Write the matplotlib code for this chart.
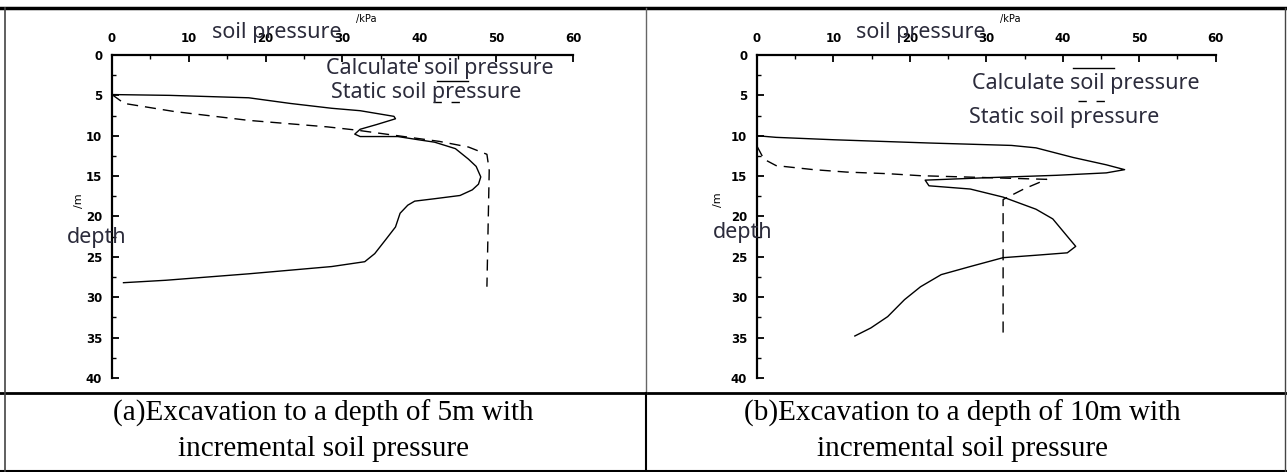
import matplotlib
matplotlib.use("Agg")
import matplotlib.pyplot as plt
from matplotlib.lines import Line2D
from matplotlib.ticker import MultipleLocator

# (a) excavation to 5 m
a_calc_p = [0, 7.5, 17.8, 23.2, 28.6, 32.3, 36.7, 36.9, 34.5, 32.3, 31.6, 32.3, 37.2, 39.9, 42.0,
            44.7, 46.4, 47.4, 48.0, 47.7, 46.9, 45.3, 42.0, 39.4, 38.5, 37.5, 36.9, 35.6, 34.2,
            32.9, 28.6, 17.8, 7.0, 1.5]
a_calc_d = [4.9, 5.0, 5.3, 6.0, 6.6, 6.9, 7.6, 7.9, 8.6, 9.2, 9.8, 10.1, 10.1, 10.5, 10.8,
            11.6, 12.9, 13.8, 15.1, 16.0, 16.7, 17.4, 17.8, 18.1, 18.6, 19.6, 21.3, 22.9, 24.6,
            25.6, 26.2, 27.1, 27.9, 28.2]
a_stat_p = [0, 1.6, 8.1, 17.8, 28.0, 31.8, 37.2, 42.6, 46.4, 48.8, 49.1, 48.8]
a_stat_d = [4.9, 6.0, 7.0, 8.1, 8.9, 9.3, 10.0, 10.7, 11.4, 12.3, 14.3, 28.7]

# (b) excavation to 10 m
b_calc_p = [0, 2.5, 10.1, 22.5, 33.3, 36.5, 41.4, 45.7, 48.1, 45.7, 39.2, 30.0, 22.0, 22.5,
            27.9, 32.2, 36.5, 38.7, 40.9, 41.7, 40.6, 36.5, 32.2, 27.9, 24.1, 21.4, 19.3, 17.1,
            14.9, 12.8]
b_calc_d = [10.0, 10.2, 10.5, 10.9, 11.2, 11.5, 12.7, 13.6, 14.2, 14.6, 14.9, 15.2, 15.5, 16.2,
            16.6, 17.6, 19.1, 20.3, 22.8, 23.7, 24.5, 24.8, 25.1, 26.2, 27.2, 28.7, 30.3, 32.4,
            33.8, 34.8]
b_stat_p = [0, 0.9, 2.5, 7.4, 11.7, 17.1, 21.4, 30.6, 37.9, 34.9, 32.2, 32.2, 32.2]
b_stat_d = [11.3, 12.9, 13.7, 14.2, 14.5, 14.7, 14.95, 15.2, 15.4, 16.6, 17.9, 19.9, 34.9]

captions = ["(a)Excavation to a depth of 5m with\nincremental soil pressure",
            "(b)Excavation to a depth of 10m with\nincremental soil pressure"]

txt_color = "#2b2b3b"
sans = ["Noto Sans", "DejaVu Sans"]
big = 15.5

fig = plt.figure(figsize=(12.87, 4.72), dpi=100)

# table borders
def fline(x, y, lw, color="black"):
    fig.add_artist(Line2D(x, y, transform=fig.transFigure, lw=lw, color=color))

fline([0.0, 1.0], [0.983, 0.983], 2.5)
fline([0.0, 1.0], [0.167, 0.167], 2.0)
fline([0.0, 1.0], [0.002, 0.002], 1.5)
fline([0.004, 0.004], [0.0, 0.983], 1.2, "#444444")
fline([0.9985, 0.9985], [0.0, 0.983], 1.0, "#444444")
fline([0.502, 0.502], [0.167, 0.983], 1.0, "#666666")
fline([0.502, 0.502], [0.0, 0.167], 1.5)

panels = [
    dict(rect=[0.0870, 0.1992, 0.3582, 0.6843], calc=(a_calc_p, a_calc_d),
         stat=(a_stat_p, a_stat_d), cx=0.2515, cap=captions[0],
         calc_txt=(42.6, 1.7), stat_txt=(40.9, 4.7),
         solid_s=([42.3, 46.4], [3.2, 3.2]), dash_s=([41.8, 45.9], [5.8, 5.8]),
         slash=(-4.3, 18.0), depth=(-2.0, 22.6)),
    dict(rect=[0.5882, 0.1992, 0.3563, 0.6843], calc=(b_calc_p, b_calc_d),
         stat=(b_stat_p, b_stat_d), cx=0.7475, cap=captions[1],
         calc_txt=(43.0, 3.5), stat_txt=(40.2, 7.7),
         solid_s=([41.4, 46.7], [1.6, 1.6]), dash_s=([42.0, 45.6], [5.7, 5.7]),
         slash=(-5.1, 17.9), depth=(-1.9, 22.0)),
]

for p in panels:
    ax = fig.add_axes(p["rect"])
    ax.plot(*p["calc"], color="black", lw=1.0)
    ax.plot(*p["stat"], color="black", lw=1.0, dashes=(8, 5))
    ax.set_xlim(0, 60)
    ax.set_ylim(40, 0)
    ax.spines["bottom"].set_visible(False)
    ax.spines["right"].set_visible(False)
    ax.spines["top"].set_linewidth(1.6)
    ax.spines["left"].set_linewidth(1.6)
    ax.xaxis.tick_top()
    ax.xaxis.set_major_locator(MultipleLocator(10))
    ax.xaxis.set_minor_locator(MultipleLocator(5))
    ax.yaxis.set_major_locator(MultipleLocator(5))
    ax.yaxis.set_minor_locator(MultipleLocator(2.5))
    ax.tick_params(which="major", direction="in", length=5, width=1.3, labelsize=8.5, pad=7)
    ax.tick_params(which="minor", direction="in", length=3, width=1.0)
    for lab in ax.get_xticklabels() + ax.get_yticklabels():
        lab.set_fontweight("bold")
    ax.patch.set_alpha(0)

    ax.text(21.4, -2.8, "soil pressure", ha="center", va="center", fontsize=big,
            color=txt_color, family=sans, clip_on=False)
    ax.text(31.8, -4.4, "/kPa", ha="left", va="center", fontsize=7,
            color="black", clip_on=False)
    ax.text(*p["calc_txt"], "Calculate soil pressure", ha="center", va="center",
            fontsize=big, color=txt_color, family=sans)
    ax.text(*p["stat_txt"], "Static soil pressure", ha="center", va="center",
            fontsize=big, color=txt_color, family=sans)
    ax.plot(*p["solid_s"], color="black", lw=1.0)
    ax.plot(*p["dash_s"], color="black", lw=1.0, dashes=(6, 7))
    ax.text(*p["slash"], "/m", ha="center", va="center", fontsize=8, rotation=90,
            color="black", clip_on=False)
    ax.text(*p["depth"], "depth", ha="center", va="center", fontsize=big,
            color=txt_color, family=sans, clip_on=False)

    fig.text(p["cx"], 0.0869, p["cap"], ha="center", va="center", fontsize=21,
             family=["Liberation Serif", "DejaVu Serif"], linespacing=1.42)

fig.savefig("out.png", dpi=100)
